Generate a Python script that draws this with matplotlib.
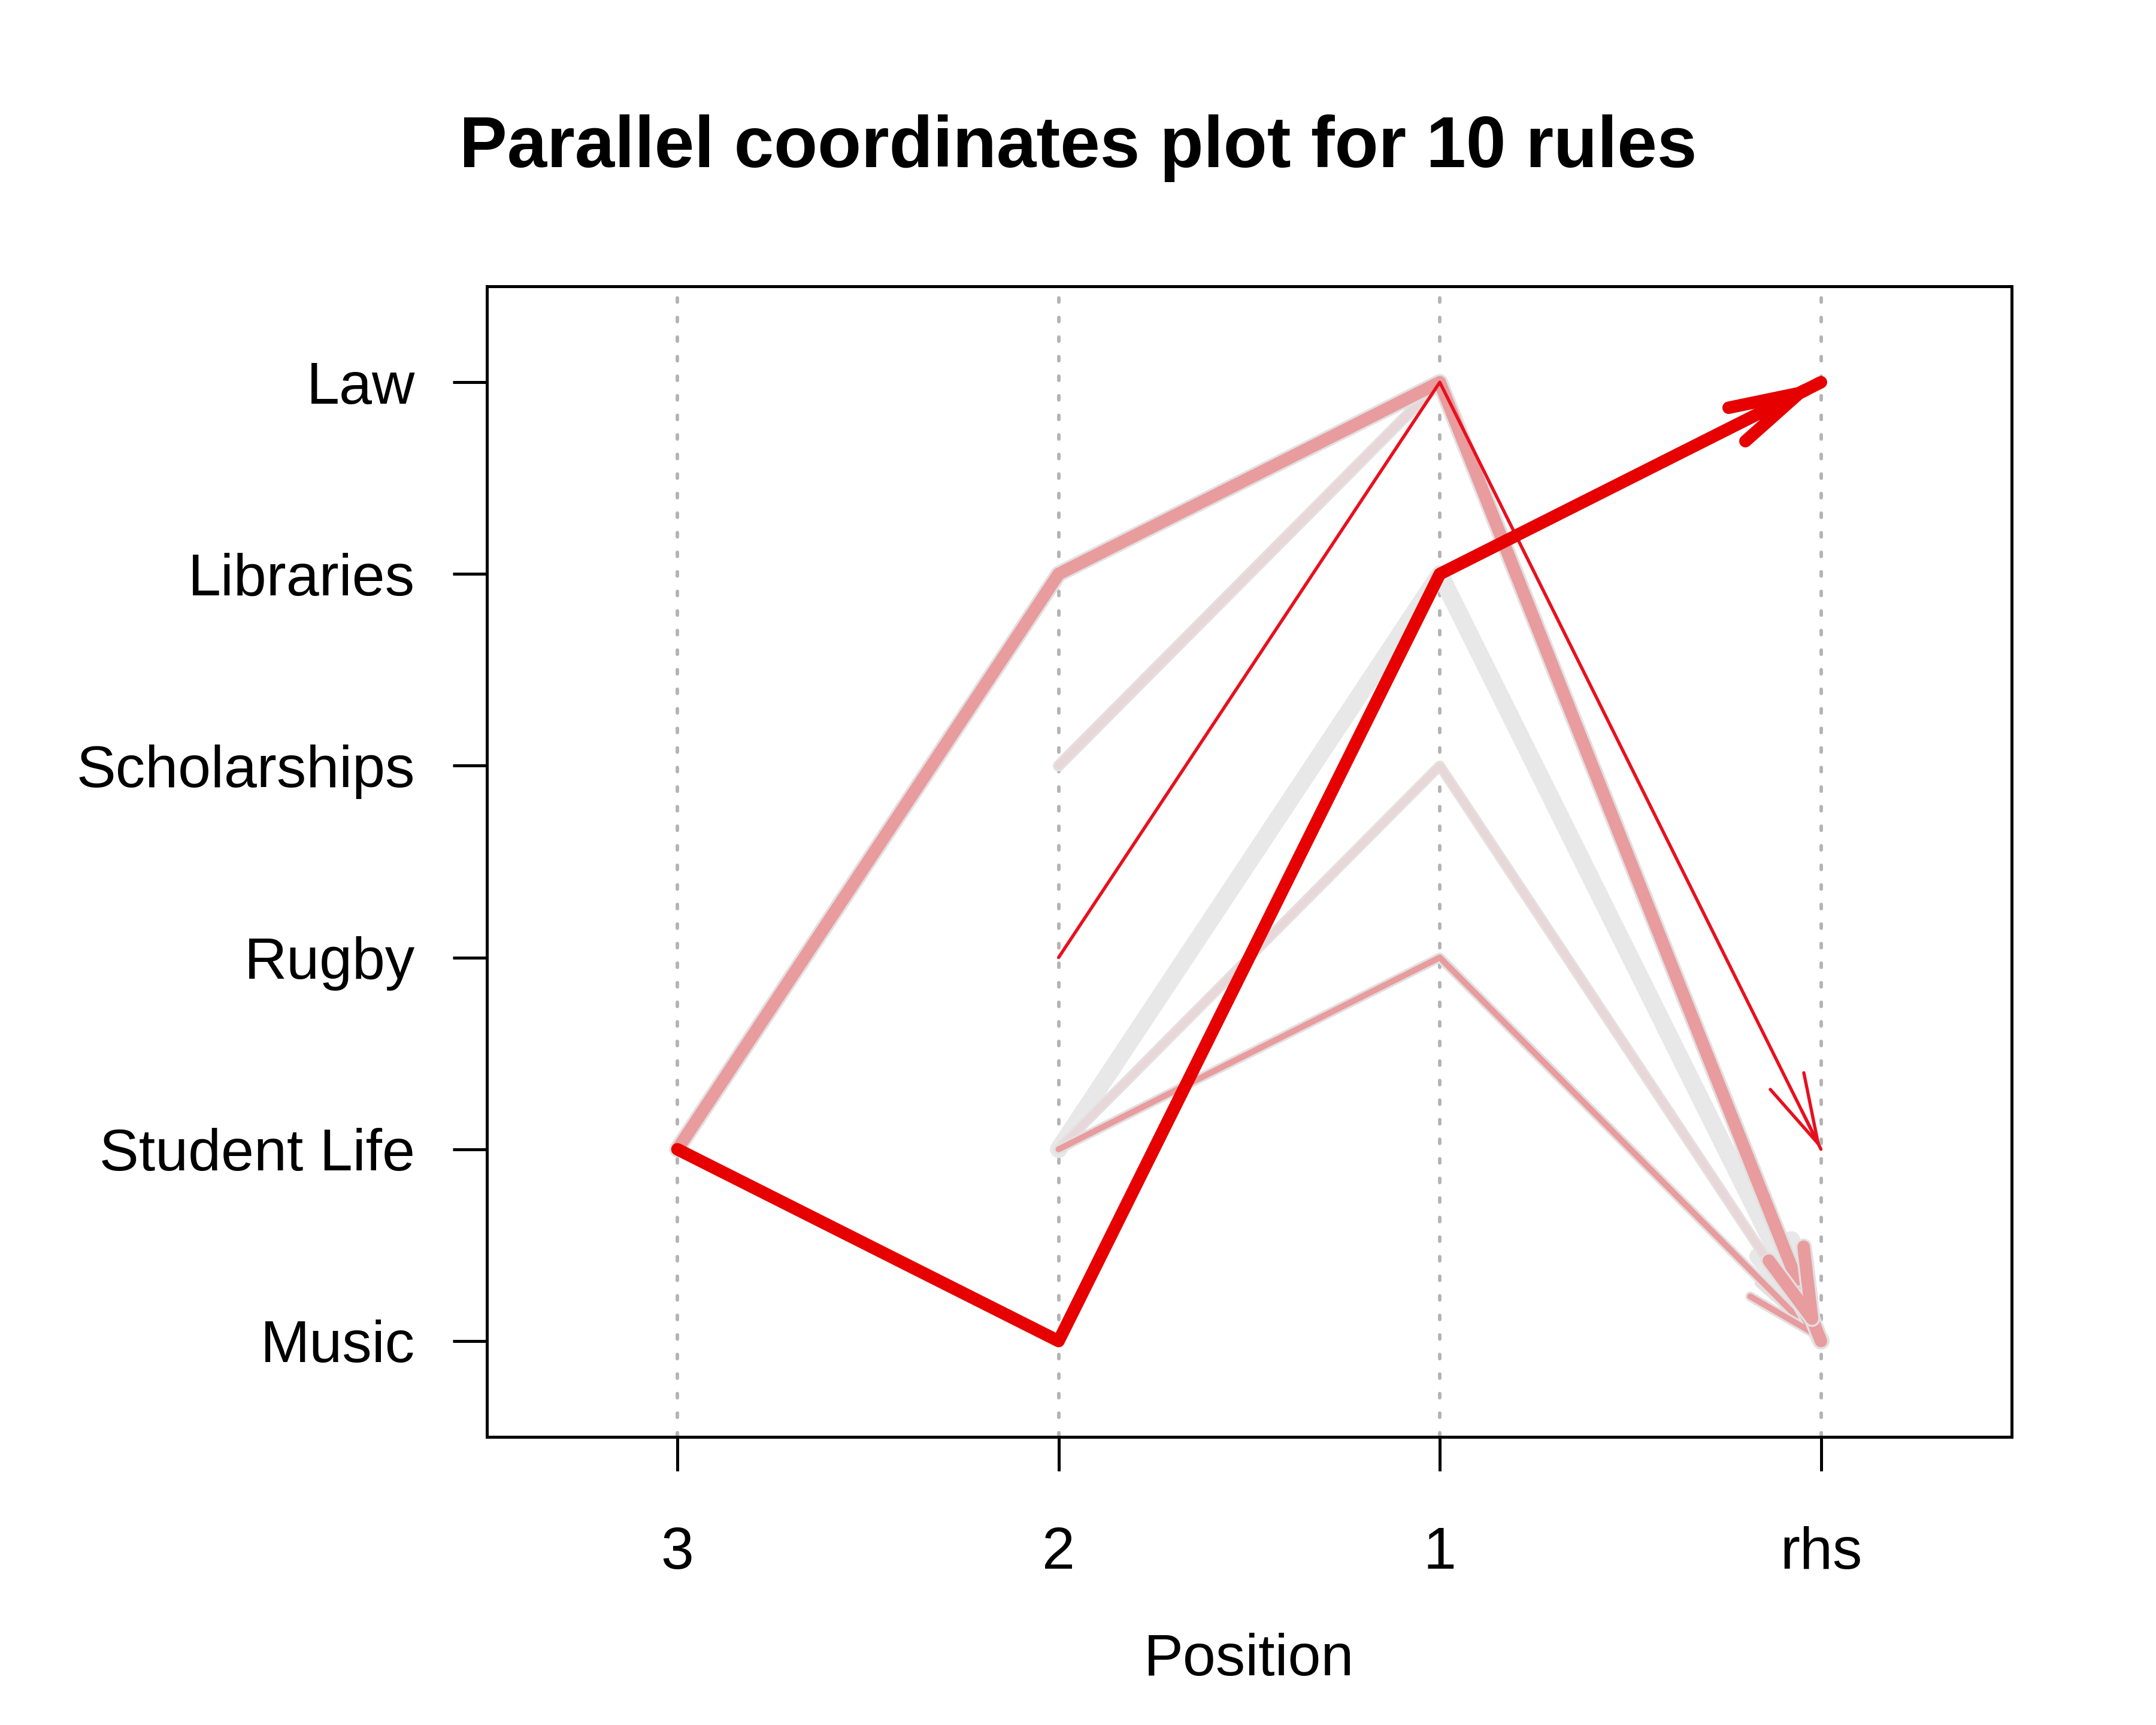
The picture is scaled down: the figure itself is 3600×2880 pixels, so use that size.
import numpy as np
import matplotlib.pyplot as plt
import matplotlib.patheffects as pe

plt.rcParams['font.family'] = ['Liberation Sans', 'DejaVu Sans']

# item axis (bottom to top) and position axis (left to right)
items = ['Music', 'Student Life', 'Rugby', 'Scholarships', 'Libraries', 'Law']
positions = ['3', '2', '1', 'rhs']

# each rule: lhs items in order of position 3, 2, 1 (None = empty) and the rhs item
rule_lhs = [
    [None, None, 'Law'],
    [None, None, 'Libraries'],
    [None, None, 'Rugby'],
    [None, 'Student Life', 'Libraries'],
    [None, 'Scholarships', 'Law'],
    [None, 'Student Life', 'Scholarships'],
    [None, 'Student Life', 'Rugby'],
    ['Student Life', 'Libraries', 'Law'],
    [None, 'Rugby', 'Law'],
    ['Student Life', 'Music', 'Libraries'],
]
rule_rhs = ['Music', 'Music', 'Music', 'Music', 'Music', 'Music', 'Music',
            'Music', 'Student Life', 'Law']
rule_width = [3.4, 6.0, 2.2, 7.0, 3.0, 2.6, 2.4, 5.0, 1.3, 5.0]
rule_color = ['#e89c9e', '#e8e8e8', '#e89c9e', '#e8e8e8', '#e8d6d8', '#e8d6d8',
              '#e89c9e', '#e89c9e', '#e8101e', '#e60000']
rule_halo = [True, False, True, False, True, True, True, True, False, False]

fig, ax = plt.subplots(figsize=(12, 9.6), dpi=300)
fig.subplots_adjust(left=0.2258, right=0.933, bottom=0.167, top=0.834)

xpos = np.arange(1, len(positions) + 1)
for x in xpos:
    ax.axvline(x, color='#b3b3b3', lw=1.4, linestyle=(0, (1.2, 4.4)),
               dash_capstyle='round', zorder=0)

for lhs, rhs, lw, col, h in zip(rule_lhs, rule_rhs, rule_width, rule_color, rule_halo):
    xs, ys = [], []
    for x, it in zip(xpos[:-1], lhs):
        if it is not None:
            xs.append(x)
            ys.append(items.index(it) + 1)
    xs.append(xpos[-1])
    ys.append(items.index(rhs) + 1)
    effects = [pe.Stroke(linewidth=lw + 1.6, foreground='#e3e0e0'), pe.Normal()] if h else None
    ax.plot(xs, ys, color=col, lw=lw, solid_capstyle='round', solid_joinstyle='round',
            path_effects=effects, zorder=2)
    # open arrow head at the rhs end, 15 degree half angle
    dx, dy = xs[-1] - xs[-2], ys[-1] - ys[-2]
    ax.annotate('', xy=(xs[-1], ys[-1]), xytext=(xs[-1] - 0.05 * dx, ys[-1] - 0.05 * dy),
                arrowprops=dict(arrowstyle='->,head_length=28,head_width=7.5',
                                mutation_scale=1, lw=lw, color=col,
                                shrinkA=0, shrinkB=0, capstyle='round', joinstyle='round',
                                path_effects=effects),
                zorder=2)

ax.set_xlim(0.5, 4.5)
ax.set_ylim(0.5, 6.5)
ax.set_xticks(xpos)
ax.set_xticklabels(positions)
ax.set_yticks(np.arange(1, len(items) + 1))
ax.set_yticklabels(items)
ax.tick_params(axis='both', length=13.7, width=1.2, labelsize=23.7, direction='out')
ax.tick_params(axis='x', pad=22)
ax.tick_params(axis='y', pad=15)
for s in ax.spines.values():
    s.set_linewidth(1.2)

ax.set_xlabel('Position', fontsize=23.7, labelpad=21)
fig.suptitle('Parallel coordinates plot for 10 rules', fontsize=28.7, fontweight='bold',
             x=0.5, y=0.914, va='center')

plt.savefig('out.png', dpi=300)
